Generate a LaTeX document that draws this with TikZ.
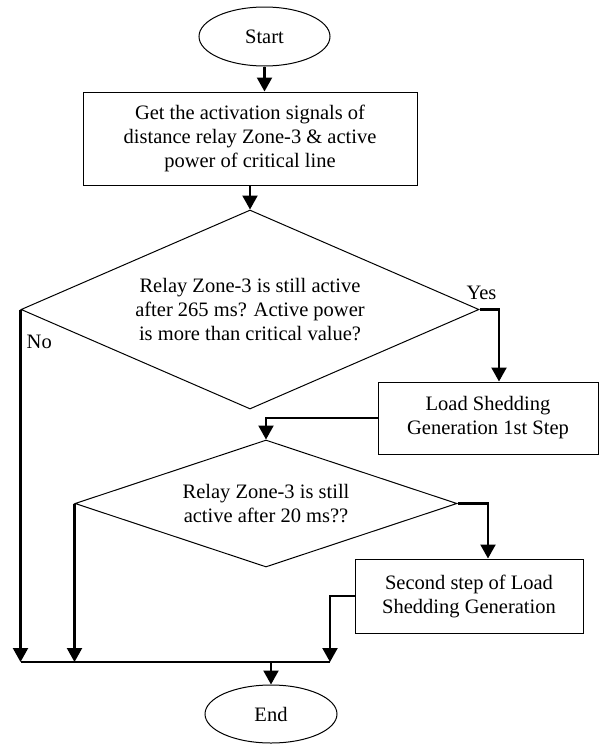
\documentclass[tikz,border=0pt]{standalone}
\usepackage{fontspec}
\setmainfont{Liberation Serif}
\usetikzlibrary{positioning,calc,shapes.geometric,arrows.meta}

\begin{document}
\begin{tikzpicture}[x=1pt, y=1pt,
    every node/.style={font=\fontsize{20.5}{24}\selectfont, align=center},
    terminal/.style={ellipse, draw, line width=1pt},
    process/.style={rectangle, draw, line width=1pt, inner sep=0pt},
    decision/.style={diamond, draw, line width=1pt, inner sep=0pt},
    flow/.style={-{Triangle[length=14pt,width=15pt]}, line width=2.2pt},
    bus/.style={line width=2.2pt}]
  \useasboundingbox (0,0) rectangle (600,-744);
  \node (start) [terminal, minimum width=131pt, minimum height=59pt] at (264.5,-36.5) {Start};
  \node (get) [process, minimum width=334pt, minimum height=93pt] at (250,-138.5)
    {Get the activation signals of\\distance relay Zone-3 \& active\\power of critical line};
  \node (check1) [decision, aspect=2.3, minimum width=458pt, minimum height=199pt] at (250,-309.5)
    {Relay Zone-3 is still active\\after 265 ms? Active power\\is more than critical value?};
  \node (shed1) [process, minimum width=220pt, minimum height=72pt] at (488,-418)
    {Load Shedding\\Generation 1st Step};
  \node (check2) [decision, aspect=3, minimum width=382pt, minimum height=127pt] at (266,-503.5)
    {Relay Zone-3 is still\\active after 20 ms??};
  \node (shed2) [process, minimum width=228pt, minimum height=74pt] at (469,-596)
    {Second step of Load\\Shedding Generation};
  \node (stop) [terminal, minimum width=132pt, minimum height=58pt] at (271,-714) {End};
  \coordinate (busR) at (330,-662);
  % labels of the first decision
  \node (yes) [above=10pt of check1.east, xshift=2pt, inner sep=0pt] {Yes};
  \node (no) [below right=25pt and 6pt of check1.west, inner sep=0pt] {No};
  % connectors
  \draw[flow] (start.south) -- (start.south |- get.north);
  \draw[flow] (get.south) -- (check1.north);
  \draw[flow] (check1.east) -| ([xshift=11pt]shed1.north);
  \draw[flow] (shed1.west) -| (check2.north);
  \draw[flow] (check2.east) -| ([xshift=19pt]shed2.north);
  \draw[flow] (check1.west) -- (check1.west |- busR);
  \draw[flow] (check2.west) -- (check2.west |- busR);
  \draw[flow] (shed2.west) -| (busR);
  \draw[bus] (check1.west |- busR) -- (busR);
  \draw[flow] (stop.north |- busR) -- (stop.north);
\end{tikzpicture}
\end{document}
